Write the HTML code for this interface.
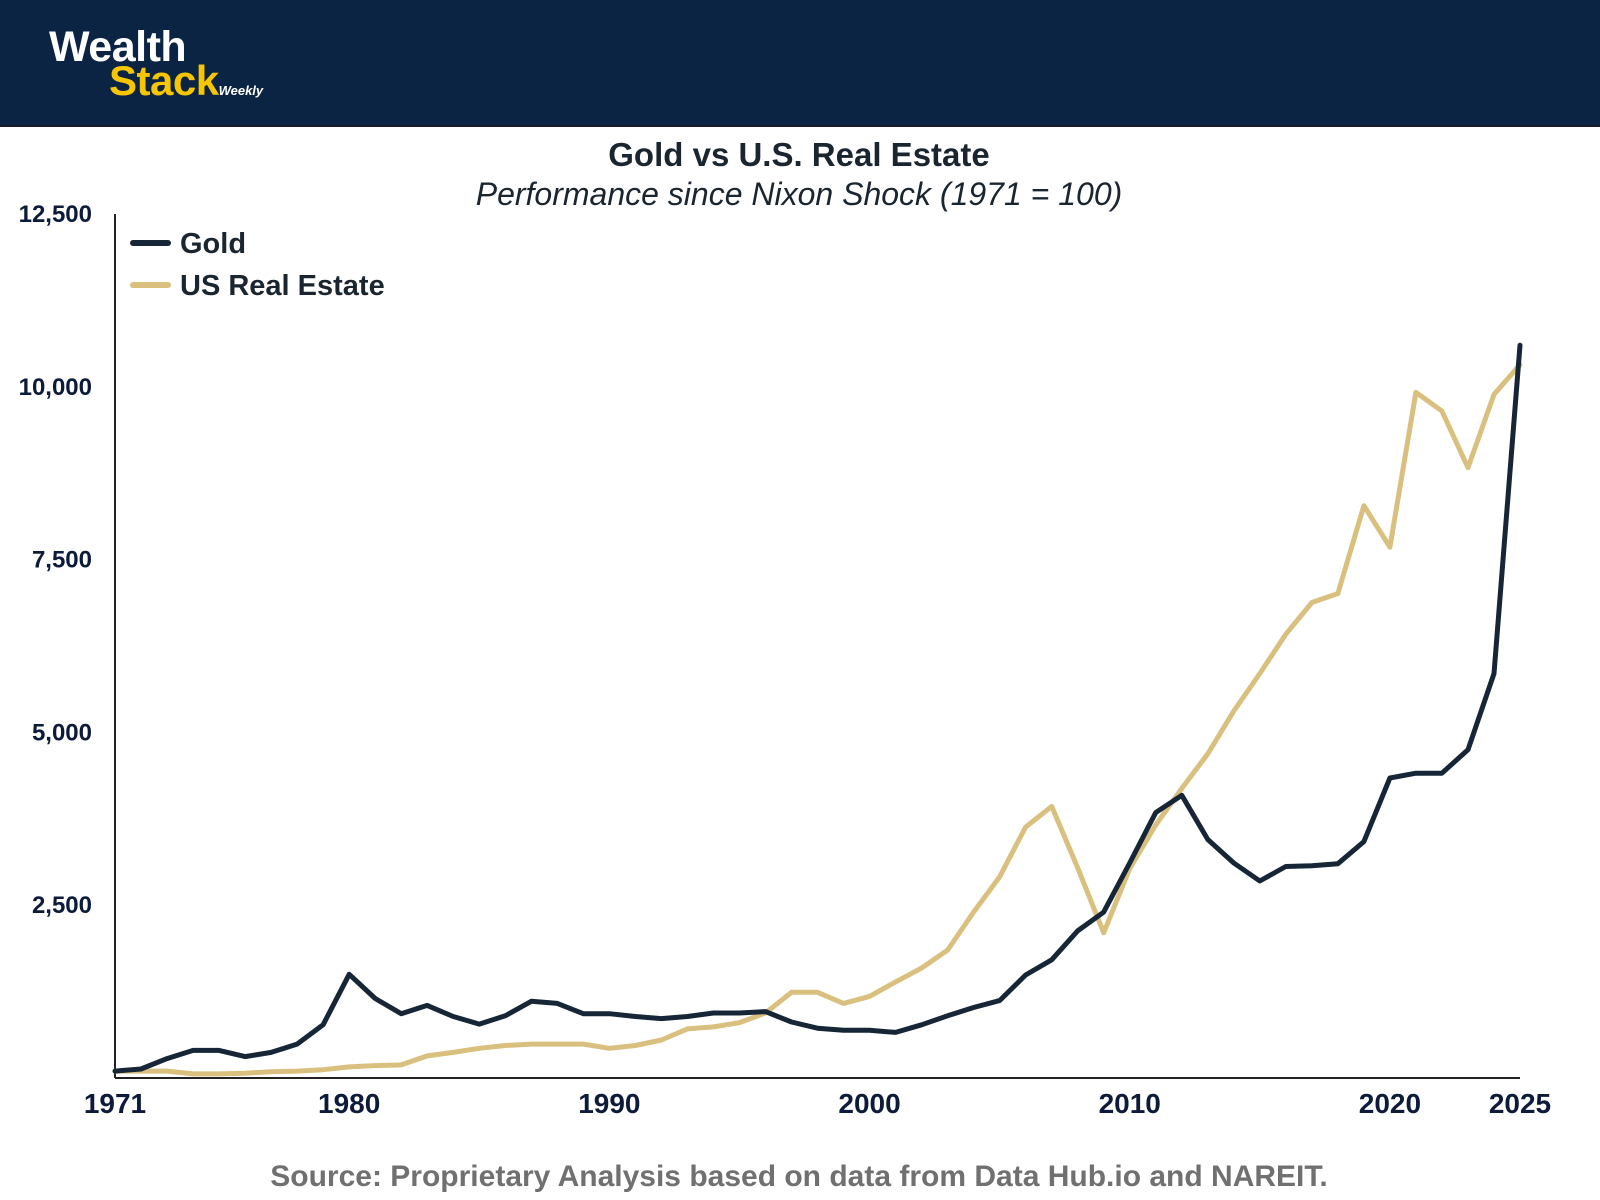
<!DOCTYPE html>
<html><head><meta charset="utf-8"><style>
body{margin:0;width:1600px;height:1200px;background:#fff;overflow:hidden;font-family:"Liberation Sans",sans-serif}
</style></head><body>
<div style="position:absolute;left:0;top:0;width:1600px;height:125px;background:#0c2444;border-bottom:2px solid #1a1a2a"></div>
<div style="position:absolute;left:49px;top:30px;font-weight:bold;line-height:34px">
<div style="color:#fff;font-size:43px;letter-spacing:-0.5px">Wealth</div>
<div style="margin-left:60px;white-space:nowrap"><span style="color:#f7c600;font-size:42px;letter-spacing:-0.5px">Stack</span><span style="color:#fff;font-size:13px;font-style:italic">Weekly</span></div>
</div>
<svg width="1600" height="1200" style="position:absolute;left:0;top:0">
<g id="g"></g>
</svg>
<script>
const years=[];for(let y=1971;y<=2025;y++)years.push(y);
const gold=[100,130,280,400,400,310,370,490,770,1500,1150,930,1050,890,780,900,1110,1080,930,930,890,860,890,940,940,960,810,720,690,690,660,770,900,1020,1120,1490,1710,2130,2400,3110,3840,4090,3450,3110,2850,3060,3070,3100,3420,4340,4410,4410,4750,5850,10600];
const realEstate=[100,100,100,60,60,70,90,100,120,160,180,190,320,370,430,470,490,490,490,430,470,550,710,740,800,940,1240,1240,1080,1180,1390,1590,1850,2400,2910,3630,3930,3040,2100,3030,3660,4190,4690,5310,5850,6420,6880,7010,8280,7680,9920,9650,8830,9890,10320];
const yTicks=[2500,5000,7500,10000,12500];
const yTickLabels=["2,500","5,000","7,500","10,000","12,500"];
const xTicks=[1971,1980,1990,2000,2010,2020,2025];
const NS="http://www.w3.org/2000/svg";const g=document.getElementById('g');
const X=y=>115+(y-1971)*(1520-115)/54;
const Y=v=>1078-v*(1078-214)/12500;
function mk(t,a,txt){const e=document.createElementNS(NS,t);for(const k in a)e.setAttribute(k,a[k]);if(txt!=null)e.textContent=txt;g.appendChild(e);return e;}
let e;
e=mk('text',{x:799,y:166,'text-anchor':'middle','font-size':33,'font-weight':'bold',fill:'#1a2530'},'Gold vs U.S. Real Estate');

e=mk('text',{x:799,y:205,'text-anchor':'middle','font-size':32,'font-style':'italic',fill:'#1a2530'},'Performance since Nixon Shock (1971 = 100)');

e=mk('line',{x1:115,y1:214,x2:115,y2:1078,stroke:'#222','stroke-width':2});

e=mk('line',{x1:115,y1:1078,x2:1520,y2:1078,stroke:'#222','stroke-width':2});

yTicks.forEach((v,i)=>{e=mk('text',{x:92,y:Y(v)+8,'text-anchor':'end','font-size':24,'font-weight':'bold',fill:'#0d1b3a'},yTickLabels[i]);
});
xTicks.forEach(v=>{e=mk('text',{x:X(v),y:1113,'text-anchor':'middle','font-size':28,'font-weight':'bold',fill:'#0d1b3a'},String(v));
});
function line(data,color,name){const d=data.map((v,i)=>(i?'L':'M')+X(years[i]).toFixed(1)+' '+Y(v).toFixed(1)).join(' ');
e=mk('path',{d:d,fill:'none',stroke:color,'stroke-width':5,'stroke-linejoin':'round','stroke-linecap':'round'});
}
line(realEstate,'#d9c07f','real-estate-line');
line(gold,'#162636','gold-line');
e=mk('line',{x1:133,y1:243,x2:168,y2:243,stroke:'#162636','stroke-width':6,'stroke-linecap':'round'});

e=mk('text',{x:180,y:253,'font-size':29,'font-weight':'bold',fill:'#1a2530'},'Gold');

e=mk('line',{x1:133,y1:285,x2:168,y2:285,stroke:'#d9c07f','stroke-width':6,'stroke-linecap':'round'});

e=mk('text',{x:180,y:295,'font-size':29,'font-weight':'bold',fill:'#1a2530'},'US Real Estate');

e=mk('text',{x:799,y:1186,'text-anchor':'middle','font-size':30,'font-weight':'bold',fill:'#707070'},'Source: Proprietary Analysis based on data from Data Hub.io and NAREIT.');

</script>
</body></html>
